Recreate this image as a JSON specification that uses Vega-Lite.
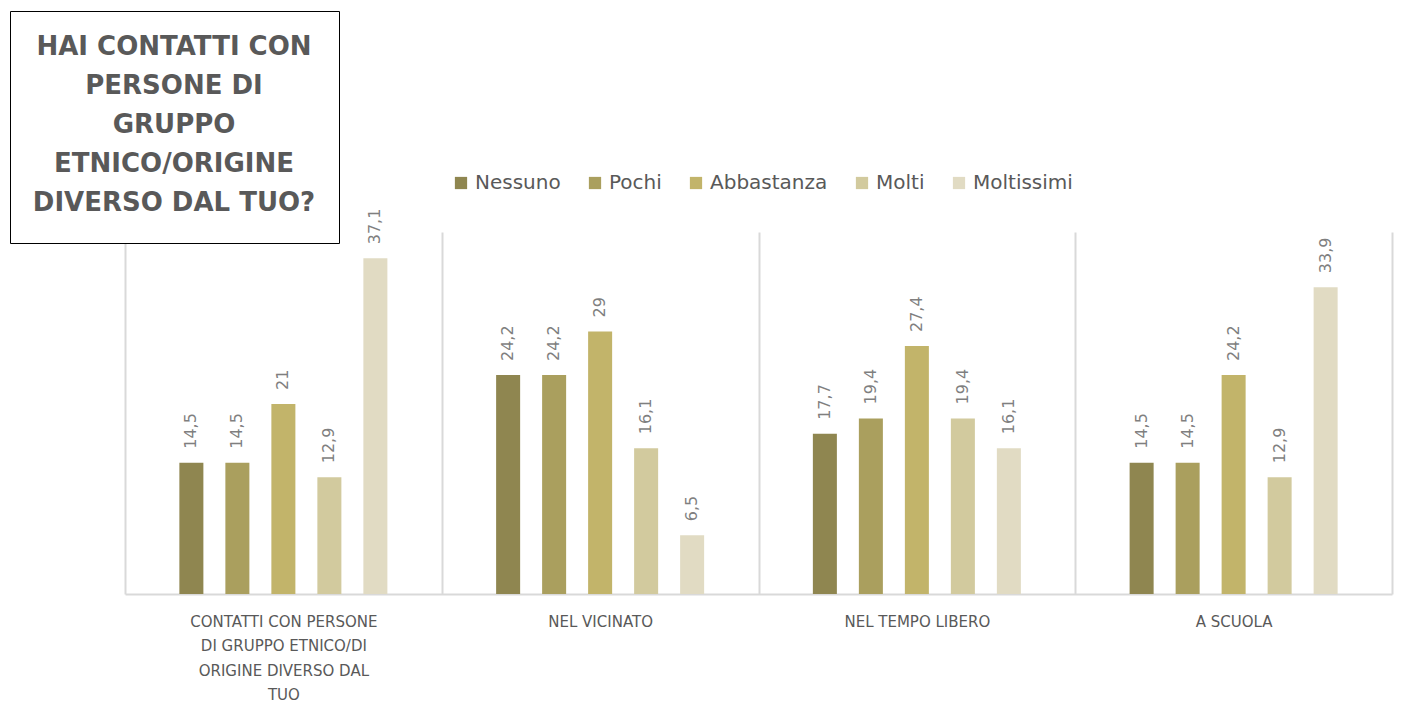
{
  "$schema": "https://vega.github.io/schema/vega-lite/v6.json",
  "width": 1267,
  "height": 362,
  "autosize": {"type": "none"},
  "padding": {"left": 125, "top": 232, "right": 19, "bottom": 127},
  "background": "white",
  "config": {
    "view": {"stroke": null},
    "font": "DejaVu Sans",
    "locale": {"number": {"decimal": ",", "thousands": ".", "grouping": [3], "currency": ["", " €"]}}
  },
  "data": {
    "values": [
      {"gruppo": "CONTATTI CON PERSONE DI GRUPPO ETNICO/DI ORIGINE DIVERSO DAL TUO", "risposta": "Nessuno", "valore": 14.5},
      {"gruppo": "CONTATTI CON PERSONE DI GRUPPO ETNICO/DI ORIGINE DIVERSO DAL TUO", "risposta": "Pochi", "valore": 14.5},
      {"gruppo": "CONTATTI CON PERSONE DI GRUPPO ETNICO/DI ORIGINE DIVERSO DAL TUO", "risposta": "Abbastanza", "valore": 21},
      {"gruppo": "CONTATTI CON PERSONE DI GRUPPO ETNICO/DI ORIGINE DIVERSO DAL TUO", "risposta": "Molti", "valore": 12.9},
      {"gruppo": "CONTATTI CON PERSONE DI GRUPPO ETNICO/DI ORIGINE DIVERSO DAL TUO", "risposta": "Moltissimi", "valore": 37.1},
      {"gruppo": "NEL VICINATO", "risposta": "Nessuno", "valore": 24.2},
      {"gruppo": "NEL VICINATO", "risposta": "Pochi", "valore": 24.2},
      {"gruppo": "NEL VICINATO", "risposta": "Abbastanza", "valore": 29},
      {"gruppo": "NEL VICINATO", "risposta": "Molti", "valore": 16.1},
      {"gruppo": "NEL VICINATO", "risposta": "Moltissimi", "valore": 6.5},
      {"gruppo": "NEL TEMPO LIBERO", "risposta": "Nessuno", "valore": 17.7},
      {"gruppo": "NEL TEMPO LIBERO", "risposta": "Pochi", "valore": 19.4},
      {"gruppo": "NEL TEMPO LIBERO", "risposta": "Abbastanza", "valore": 27.4},
      {"gruppo": "NEL TEMPO LIBERO", "risposta": "Molti", "valore": 19.4},
      {"gruppo": "NEL TEMPO LIBERO", "risposta": "Moltissimi", "valore": 16.1},
      {"gruppo": "A SCUOLA", "risposta": "Nessuno", "valore": 14.5},
      {"gruppo": "A SCUOLA", "risposta": "Pochi", "valore": 14.5},
      {"gruppo": "A SCUOLA", "risposta": "Abbastanza", "valore": 24.2},
      {"gruppo": "A SCUOLA", "risposta": "Molti", "valore": 12.9},
      {"gruppo": "A SCUOLA", "risposta": "Moltissimi", "valore": 33.9}
    ]
  },
  "encoding": {
    "x": {
      "field": "gruppo",
      "type": "nominal",
      "sort": null,
      "scale": {"paddingInner": 0, "paddingOuter": 0},
      "axis": {
        "title": null,
        "labelAngle": 0,
        "ticks": false,
        "tickBand": "extent",
        "grid": true,
        "gridColor": "#d9d9d9",
        "gridWidth": 2,
        "domainColor": "#d9d9d9",
        "domainWidth": 2,
        "labelFont": "DejaVu Sans",
        "labelFontSize": 15,
        "labelColor": "#595959",
        "labelPadding": 20,
        "labelBaseline": "top",
        "labelLineHeight": 24.5,
        "labelLimit": 400,
        "labelExpr": "datum.value == 'CONTATTI CON PERSONE DI GRUPPO ETNICO/DI ORIGINE DIVERSO DAL TUO' ? ['CONTATTI CON PERSONE', 'DI GRUPPO ETNICO/DI', 'ORIGINE DIVERSO DAL', 'TUO'] : datum.value"
      }
    },
    "xOffset": {
      "field": "risposta",
      "type": "nominal",
      "scale": {
        "domain": ["_inizio", "Nessuno", "Pochi", "Abbastanza", "Molti", "Moltissimi", "_fine"],
        "paddingInner": 0.478,
        "paddingOuter": 0.182
      }
    },
    "y": {
      "field": "valore",
      "type": "quantitative",
      "scale": {"domain": [0, 40]},
      "axis": null
    }
  },
  "layer": [
    {
      "mark": {"type": "bar"},
      "encoding": {
        "color": {
          "field": "risposta",
          "type": "nominal",
          "sort": ["Nessuno", "Pochi", "Abbastanza", "Molti", "Moltissimi"],
          "scale": {
            "domain": ["Nessuno", "Pochi", "Abbastanza", "Molti", "Moltissimi"],
            "range": ["#8f8650", "#aa9f5e", "#c2b46a", "#d2ca9e", "#e1dbc3"]
          },
          "legend": {
            "title": null,
            "orient": "none",
            "legendX": 326,
            "legendY": -59,
            "direction": "horizontal",
            "symbolType": "square",
            "symbolSize": 150,
            "symbolStrokeWidth": 0,
            "labelFont": "DejaVu Sans",
            "labelFontSize": 20,
            "labelColor": "#595959",
            "labelOffset": 4,
            "columnPadding": 24
          }
        }
      }
    },
    {
      "mark": {"type": "text", "angle": -90, "align": "left", "baseline": "middle", "dx": 14, "fontSize": 16, "color": "#7f7f7f", "font": "DejaVu Sans"},
      "encoding": {
        "text": {"field": "valore", "type": "quantitative", "format": ".1~f"},
        "opacity": {
          "datum": "t",
          "type": "nominal",
          "scale": {"range": [1, 1]},
          "legend": {
            "title": ["HAI CONTATTI CON", "PERSONE DI", "GRUPPO", "ETNICO/ORIGINE", "DIVERSO DAL TUO?"],
            "orient": "none",
            "legendX": -115,
            "legendY": -221,
            "strokeColor": "black",
            "fillColor": "white",
            "padding": 23,
            "titleFont": "DejaVu Sans",
            "titleFontSize": 26,
            "titleFontWeight": "bold",
            "titleColor": "#595959",
            "titleAlign": "center",
            "titleAnchor": "middle",
            "titleLineHeight": 39,
            "titleLimit": 500,
            "titlePadding": 0,
            "titleBaseline": "top",
            "labelExpr": "''",
            "labelFontSize": 1,
            "symbolSize": 0,
            "symbolOpacity": 0,
            "rowPadding": 0
          }
        }
      }
    }
  ]
}
